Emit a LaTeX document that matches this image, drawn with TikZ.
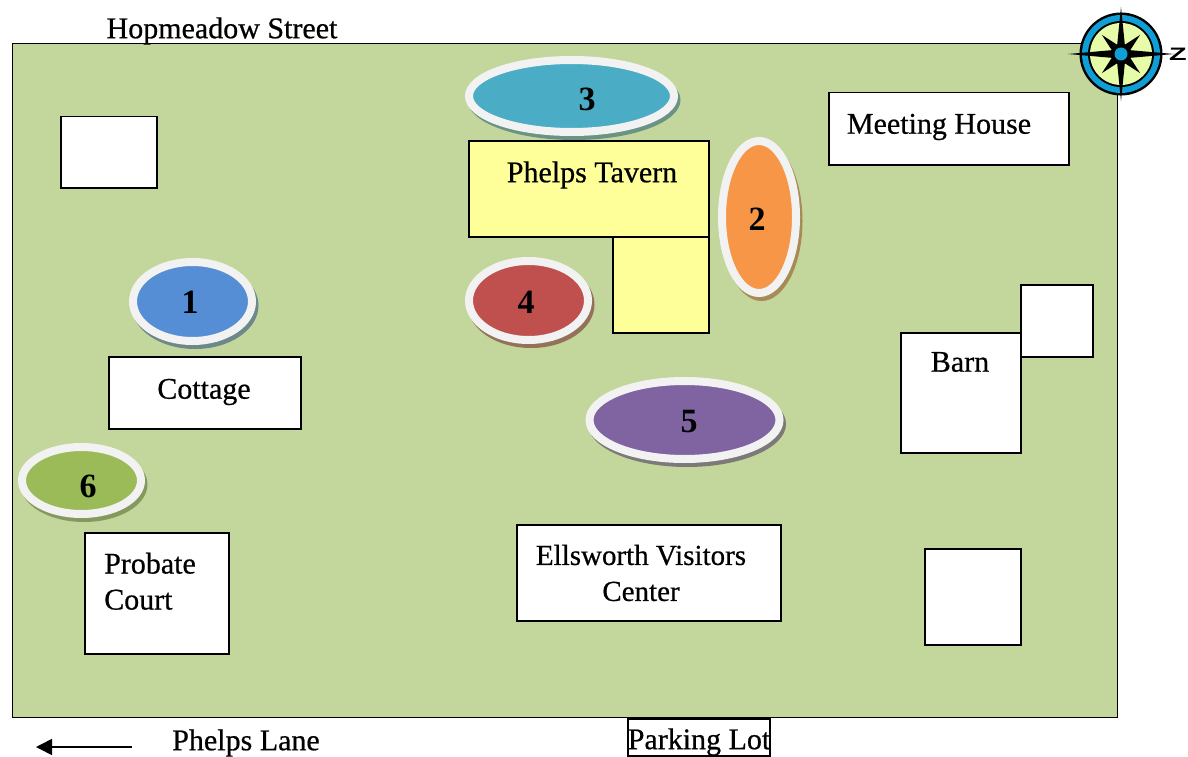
\documentclass[tikz,border=0pt]{standalone}
\usepackage{fontspec}
\setmainfont{Liberation Serif}
\newfontfamily\lblfont[FakeBold=0.6]{Liberation Serif}
\newfontfamily\zfont{Liberation Sans}
\usetikzlibrary{shapes.geometric,arrows.meta}
\definecolor{lawn}{HTML}{C3D69B}
\definecolor{tavern}{HTML}{FFFF99}
\definecolor{ringblue}{HTML}{0F9ED5}
\definecolor{dial}{HTML}{E6FCA8}
\definecolor{pondthree}{HTML}{4BACC6}
\definecolor{pondtwo}{HTML}{F79646}
\definecolor{pondfour}{HTML}{C0504D}
\definecolor{pondone}{HTML}{558ED5}
\definecolor{pondfive}{HTML}{8064A2}
\definecolor{pondsix}{HTML}{9BBB59}
\tikzset{
  x=1pt,y=-1pt,
  house/.style={draw=black,line width=1.5pt,fill=white,rectangle,inner sep=0pt},
  tavernbox/.style={house,fill=tavern},
  lbl/.style={font=\lblfont\fontsize{30}{36}\selectfont,inner sep=0pt,align=center,text=black},
  num/.style={font=\fontsize{34}{34}\selectfont\bfseries,inner sep=0pt,text=black},
  pond/.style={ellipse,draw=black!5,line width=8pt,inner sep=0pt},
  pondshadow/.style={ellipse,inner sep=0pt,fill opacity=0.6},
}
\newcommand{\boxat}[6]{%
  \node[#2,minimum width=#5pt-#3pt,minimum height=#6pt-#4pt,anchor=north west] (#1) at (#3-1,#4-1) {};}
\newcommand{\pondat}[8]{%
  \node[pondshadow,fill=#2!60!black,minimum width=#5pt+8pt,minimum height=#6pt+8pt] (#1s) at (#3+2.5,#4+4) {};
  \node[pond,fill=#2,minimum width=#5pt,minimum height=#6pt] (#1) at (#3,#4) {};
  \node[num] (#1n) at (#7) {#8};}
\begin{document}
\begin{tikzpicture}
\useasboundingbox (0,0) rectangle (1188,757);
\node[draw=black,line width=1pt,fill=lawn,minimum width=1105pt,minimum height=673pt,anchor=north west,inner sep=0pt] (lawnarea) at (11.5,43.5) {};
% buildings
\boxat{shed}{house}{61}{117}{157}{188}
\boxat{meeting}{house}{829}{93}{1069}{165}
\boxat{tavernmain}{tavernbox}{469}{141}{709}{237}
\boxat{tavernwing}{tavernbox}{613}{237}{709}{333}
\boxat{cottage}{house}{109}{357}{301}{429}
\boxat{barnshed}{house}{1021}{285}{1093}{357}
\boxat{barn}{house}{901}{333}{1021}{453}
\boxat{probate}{house}{85}{533}{229}{654}
\boxat{visitors}{house}{517}{525}{781}{621}
\boxat{garage}{house}{925}{549}{1021}{645}
% ponds
\pondat{pthree}{pondthree}{571.5}{96}{205}{72}{587,99}{3}
\pondat{ptwo}{pondtwo}{759}{217}{74}{152}{757,219}{2}
\pondat{pfour}{pondfour}{528.5}{300.5}{119}{79}{526,302}{4}
\pondat{pone}{pondone}{192.5}{301.5}{119}{79}{190,302}{1}
\pondat{pfive}{pondfive}{684.5}{420}{190}{78}{689,422}{5}
\pondat{psix}{pondsix}{81.5}{480.5}{119}{67}{88,486}{6}
% labels
\node[lbl] (tstreet) at (222,31) {Hopmeadow Street};
\node[lbl] (tmeeting) at (939,127) {Meeting House};
\node[lbl] (ttavern) at (592,175) {Phelps Tavern};
\node[lbl] (tcottage) at (204,392) {Cottage};
\node[lbl] (tbarn) at (960,362) {Barn};
\node[lbl,align=left,anchor=north west] (tprobate) at (104,552.5) {Probate\\Court};
\node[lbl,font=\lblfont\fontsize{29}{36}\selectfont] (tvisitors) at (641,573) {Ellsworth Visitors\\Center};
\node[lbl] (tlane) at (246,743) {Phelps Lane};
\node[draw=black,line width=1.2pt,minimum width=142pt,minimum height=37pt,inner sep=0pt] (parkbox) at (699,737.5) {};
\node[lbl] (tparking) at (699,742) {Parking Lot};
% arrow
\coordinate (arrowstart) at (132,747);
\coordinate (arrowend) at (36,747);
\draw[line width=1.6pt,-{Triangle[length=16pt,width=16pt]}] (arrowstart) -- (arrowend);
% compass
\begin{scope}[shift={(1121,54)}]
\fill[black] (0,0) circle (41.5);
\fill[ringblue] (0,0) circle (39);
\fill[black] (0,0) circle (33);
\fill[dial] (0,0) circle (31);
\fill[black] (53,0) -- (22.5:10) -- (45:27) -- (67.5:10) -- (0,47) -- (112.5:10) -- (135:27) -- (157.5:10) -- (-53,0) -- (202.5:10) -- (225:27) -- (247.5:10) -- (0,-47) -- (292.5:10) -- (315:27) -- (337.5:10) -- cycle;
\fill[ringblue] (0,0) circle (6.5);
\end{scope}
\node[font=\zfont\bfseries\fontsize{18}{18}\selectfont,inner sep=0pt] (znorth) at (1178,54) {\scalebox{1.6}[1]{Z}};
\end{tikzpicture}
\end{document}
